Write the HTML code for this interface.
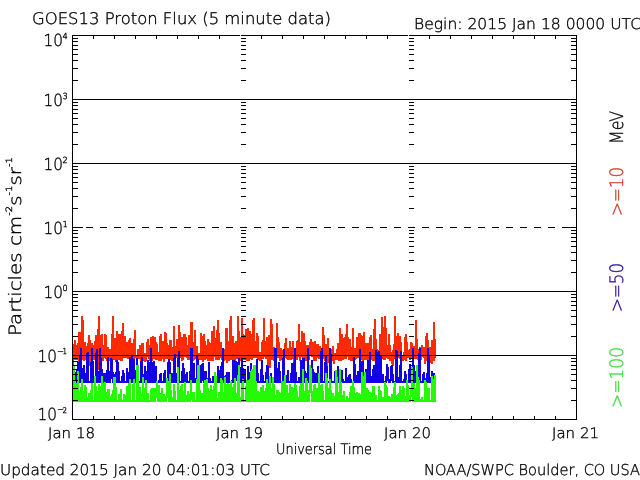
<!DOCTYPE html><html><head><meta charset="utf-8"><title>GOES13 Proton Flux</title><style>html,body{margin:0;padding:0;background:#fff;overflow:hidden}svg{display:block}text{font-family:"DejaVu Sans","Liberation Sans",sans-serif;font-weight:200;stroke-width:0.35px;text-rendering:geometricPrecision}</style></head><body><svg width="640" height="480" viewBox="0 0 640 480"><rect width="640" height="480" fill="#fff"/><path shape-rendering="crispEdges" fill="#ff2a00" d="M72 355h1v12h-1zM73 344h1v23h-1zM74 340h1v20h-1zM75 340h1v20h-1zM76 345h1v15h-1zM77 343h1v17h-1zM78 332h1v34h-1zM79 332h1v34h-1zM80 332h1v29h-1zM81 316h1v45h-1zM82 316h1v44h-1zM83 320h1v41h-1zM84 342h1v19h-1zM85 342h1v18h-1zM86 346h1v14h-1zM87 343h1v17h-1zM88 335h1v23h-1zM89 335h1v31h-1zM90 340h1v26h-1zM91 343h1v16h-1zM92 343h1v17h-1zM93 345h1v15h-1zM94 341h1v19h-1zM95 335h1v23h-1zM96 335h1v23h-1zM97 329h1v29h-1zM98 316h1v54h-1zM99 316h1v54h-1zM100 335h1v31h-1zM101 334h1v27h-1zM102 334h1v27h-1zM103 345h1v16h-1zM104 334h1v24h-1zM105 334h1v25h-1zM106 335h1v26h-1zM107 347h1v14h-1zM108 347h1v12h-1zM109 349h1v12h-1zM110 349h1v12h-1zM111 334h1v25h-1zM112 316h1v43h-1zM113 316h1v44h-1zM114 338h1v22h-1zM115 338h1v24h-1zM116 331h1v31h-1zM117 331h1v29h-1zM118 334h1v26h-1zM119 334h1v26h-1zM120 334h1v27h-1zM121 331h1v30h-1zM122 323h1v38h-1zM123 323h1v35h-1zM124 336h1v22h-1zM125 336h1v22h-1zM126 342h1v16h-1zM127 342h1v17h-1zM128 340h1v19h-1zM129 338h1v22h-1zM130 338h1v22h-1zM131 343h1v16h-1zM132 343h1v18h-1zM133 339h1v22h-1zM134 330h1v30h-1zM135 330h1v28h-1zM136 355h1v6h-1zM137 349h1v12h-1zM138 349h1v10h-1zM139 345h1v14h-1zM140 345h1v16h-1zM141 343h1v18h-1zM142 343h1v18h-1zM143 343h1v18h-1zM144 353h1v9h-1zM145 353h1v9h-1zM146 342h1v19h-1zM147 339h1v18h-1zM148 339h1v20h-1zM149 345h1v16h-1zM150 337h1v24h-1zM151 337h1v24h-1zM152 336h1v25h-1zM153 336h1v23h-1zM154 337h1v22h-1zM155 337h1v23h-1zM156 342h1v18h-1zM157 344h1v16h-1zM158 352h1v9h-1zM159 336h1v25h-1zM160 334h1v27h-1zM161 334h1v27h-1zM162 341h1v18h-1zM163 341h1v21h-1zM164 332h1v30h-1zM165 332h1v27h-1zM166 333h1v26h-1zM167 343h1v16h-1zM168 345h1v14h-1zM169 340h1v19h-1zM170 340h1v20h-1zM171 340h1v21h-1zM172 347h1v14h-1zM173 326h1v35h-1zM174 326h1v34h-1zM175 346h1v14h-1zM176 339h1v19h-1zM177 339h1v21h-1zM178 325h1v36h-1zM179 325h1v36h-1zM180 332h1v26h-1zM181 337h1v24h-1zM182 337h1v24h-1zM183 334h1v26h-1zM184 334h1v23h-1zM185 334h1v23h-1zM186 337h1v21h-1zM187 345h1v15h-1zM188 335h1v25h-1zM189 335h1v25h-1zM190 322h1v40h-1zM191 322h1v40h-1zM192 322h1v39h-1zM193 342h1v19h-1zM194 330h1v30h-1zM195 330h1v29h-1zM196 346h1v13h-1zM197 346h1v14h-1zM198 353h1v7h-1zM199 353h1v7h-1zM200 333h1v27h-1zM201 333h1v27h-1zM202 336h1v26h-1zM203 334h1v28h-1zM204 334h1v26h-1zM205 341h1v19h-1zM206 345h1v14h-1zM207 339h1v22h-1zM208 339h1v22h-1zM209 342h1v19h-1zM210 343h1v18h-1zM211 331h1v30h-1zM212 331h1v30h-1zM213 326h1v35h-1zM214 326h1v31h-1zM215 338h1v22h-1zM216 330h1v30h-1zM217 320h1v40h-1zM218 320h1v40h-1zM219 333h1v27h-1zM220 342h1v16h-1zM221 342h1v18h-1zM222 352h1v9h-1zM223 349h1v12h-1zM224 349h1v12h-1zM225 328h1v32h-1zM226 328h1v35h-1zM227 328h1v35h-1zM228 341h1v20h-1zM229 320h1v41h-1zM230 316h1v44h-1zM231 316h1v44h-1zM232 336h1v24h-1zM233 336h1v26h-1zM234 343h1v20h-1zM235 341h1v22h-1zM236 341h1v18h-1zM237 316h1v43h-1zM238 316h1v46h-1zM239 331h1v31h-1zM240 337h1v24h-1zM241 318h1v43h-1zM242 318h1v41h-1zM243 334h1v26h-1zM244 335h1v25h-1zM245 329h1v31h-1zM246 329h1v32h-1zM247 328h1v33h-1zM248 328h1v33h-1zM249 331h1v30h-1zM250 331h1v28h-1zM251 334h1v26h-1zM252 320h1v40h-1zM253 318h1v40h-1zM254 318h1v40h-1zM255 341h1v17h-1zM256 333h1v25h-1zM257 333h1v26h-1zM258 336h1v24h-1zM259 352h1v9h-1zM260 352h1v9h-1zM261 342h1v18h-1zM262 340h1v19h-1zM263 318h1v41h-1zM264 318h1v39h-1zM265 341h1v18h-1zM266 337h1v22h-1zM267 337h1v31h-1zM268 335h1v33h-1zM269 335h1v33h-1zM270 319h1v49h-1zM271 319h1v41h-1zM272 324h1v36h-1zM273 347h1v14h-1zM274 347h1v14h-1zM275 349h1v11h-1zM276 323h1v37h-1zM277 323h1v35h-1zM278 337h1v21h-1zM279 342h1v19h-1zM280 348h1v13h-1zM281 348h1v12h-1zM282 350h1v10h-1zM283 350h1v10h-1zM284 343h1v15h-1zM285 338h1v20h-1zM286 338h1v21h-1zM287 348h1v12h-1zM288 348h1v12h-1zM289 341h1v19h-1zM290 341h1v19h-1zM291 347h1v13h-1zM292 341h1v18h-1zM293 341h1v22h-1zM294 348h1v16h-1zM295 348h1v16h-1zM296 341h1v19h-1zM297 340h1v20h-1zM298 324h1v33h-1zM299 324h1v37h-1zM300 342h1v19h-1zM301 331h1v26h-1zM302 331h1v27h-1zM303 333h1v25h-1zM304 333h1v26h-1zM305 341h1v20h-1zM306 345h1v16h-1zM307 345h1v10h-1zM308 345h1v15h-1zM309 342h1v18h-1zM310 339h1v17h-1zM311 339h1v18h-1zM312 342h1v15h-1zM313 342h1v19h-1zM314 341h1v20h-1zM315 341h1v20h-1zM316 344h1v17h-1zM317 344h1v14h-1zM318 344h1v15h-1zM319 346h1v13h-1zM320 346h1v18h-1zM321 352h1v13h-1zM322 327h1v38h-1zM323 327h1v32h-1zM324 335h1v26h-1zM325 344h1v17h-1zM326 344h1v23h-1zM327 338h1v29h-1zM328 338h1v25h-1zM329 348h1v13h-1zM330 349h1v12h-1zM331 349h1v12h-1zM332 346h1v15h-1zM333 346h1v18h-1zM334 353h1v11h-1zM335 353h1v7h-1zM336 349h1v11h-1zM337 343h1v17h-1zM338 343h1v18h-1zM339 328h1v33h-1zM340 328h1v33h-1zM341 334h1v27h-1zM342 334h1v26h-1zM343 338h1v22h-1zM344 337h1v22h-1zM345 334h1v25h-1zM346 324h1v35h-1zM347 324h1v33h-1zM348 337h1v23h-1zM349 339h1v21h-1zM350 339h1v22h-1zM351 347h1v14h-1zM352 328h1v33h-1zM353 328h1v33h-1zM354 348h1v13h-1zM355 348h1v12h-1zM356 337h1v22h-1zM357 337h1v21h-1zM358 333h1v25h-1zM359 333h1v26h-1zM360 333h1v27h-1zM361 335h1v25h-1zM362 336h1v25h-1zM363 332h1v29h-1zM364 332h1v28h-1zM365 343h1v17h-1zM366 343h1v17h-1zM367 343h1v17h-1zM368 343h1v17h-1zM369 337h1v23h-1zM370 335h1v24h-1zM371 335h1v25h-1zM372 349h1v12h-1zM373 329h1v32h-1zM374 319h1v42h-1zM375 319h1v42h-1zM376 339h1v22h-1zM377 349h1v14h-1zM378 350h1v13h-1zM379 334h1v26h-1zM380 334h1v27h-1zM381 317h1v44h-1zM382 317h1v42h-1zM383 327h1v33h-1zM384 316h1v44h-1zM385 316h1v44h-1zM386 328h1v30h-1zM387 345h1v14h-1zM388 334h1v25h-1zM389 334h1v27h-1zM390 345h1v16h-1zM391 352h1v12h-1zM392 350h1v16h-1zM393 344h1v22h-1zM394 316h1v43h-1zM395 316h1v44h-1zM396 336h1v24h-1zM397 333h1v27h-1zM398 333h1v25h-1zM399 336h1v23h-1zM400 336h1v23h-1zM401 342h1v18h-1zM402 355h1v6h-1zM403 352h1v9h-1zM404 337h1v23h-1zM405 334h1v27h-1zM406 334h1v27h-1zM407 342h1v16h-1zM408 350h1v8h-1zM409 349h1v11h-1zM410 342h1v18h-1zM411 342h1v17h-1zM412 343h1v17h-1zM413 346h1v14h-1zM414 346h1v13h-1zM415 320h1v39h-1zM416 320h1v39h-1zM417 339h1v21h-1zM418 349h1v11h-1zM419 347h1v13h-1zM420 347h1v13h-1zM421 345h1v15h-1zM422 345h1v12h-1zM423 347h1v11h-1zM424 347h1v17h-1zM425 336h1v28h-1zM426 333h1v28h-1zM427 333h1v28h-1zM428 340h1v21h-1zM429 347h1v14h-1zM430 347h1v16h-1zM431 340h1v24h-1zM432 340h1v24h-1zM433 322h1v39h-1zM434 322h1v39h-1zM435 339h1v19h-1z"/><path shape-rendering="crispEdges" fill="#1400e6" d="M72 371h1v12h-1zM73 371h1v12h-1zM74 372h1v11h-1zM75 372h1v11h-1zM76 370h1v13h-1zM77 362h1v21h-1zM78 362h1v21h-1zM79 356h1v27h-1zM80 348h1v35h-1zM81 348h1v35h-1zM82 368h1v15h-1zM83 365h1v18h-1zM84 365h1v18h-1zM85 373h1v10h-1zM86 353h1v30h-1zM87 352h1v31h-1zM88 352h1v31h-1zM89 381h1v2h-1zM90 362h1v21h-1zM91 348h1v35h-1zM92 348h1v35h-1zM93 361h1v22h-1zM94 381h1v2h-1zM95 353h1v30h-1zM96 349h1v34h-1zM97 349h1v34h-1zM98 371h1v12h-1zM99 348h1v35h-1zM100 348h1v35h-1zM101 358h1v25h-1zM102 369h1v14h-1zM103 373h1v10h-1zM104 373h1v10h-1zM105 373h1v10h-1zM106 370h1v13h-1zM107 357h1v26h-1zM108 357h1v26h-1zM109 371h1v12h-1zM110 358h1v25h-1zM111 358h1v21h-1zM112 359h1v24h-1zM113 372h1v11h-1zM114 374h1v9h-1zM115 372h1v11h-1zM116 360h1v23h-1zM117 360h1v23h-1zM118 362h1v21h-1zM119 371h1v12h-1zM120 381h1v2h-1zM121 376h1v7h-1zM122 370h1v13h-1zM123 370h1v13h-1zM124 373h1v10h-1zM125 381h1v2h-1zM126 368h1v15h-1zM127 368h1v15h-1zM128 372h1v11h-1zM129 357h1v26h-1zM130 357h1v26h-1zM131 356h1v27h-1zM132 356h1v27h-1zM133 359h1v24h-1zM134 359h1v24h-1zM135 370h1v13h-1zM136 358h1v25h-1zM137 358h1v25h-1zM138 368h1v15h-1zM139 381h1v2h-1zM140 361h1v22h-1zM141 357h1v26h-1zM142 357h1v26h-1zM143 374h1v9h-1zM144 366h1v17h-1zM145 366h1v17h-1zM146 371h1v12h-1zM147 360h1v23h-1zM148 360h1v23h-1zM149 362h1v21h-1zM150 348h1v35h-1zM151 348h1v35h-1zM152 362h1v21h-1zM153 361h1v22h-1zM154 361h1v22h-1zM155 366h1v17h-1zM156 366h1v17h-1zM157 381h1v2h-1zM158 380h1v3h-1zM159 374h1v9h-1zM160 373h1v10h-1zM161 373h1v10h-1zM162 381h1v2h-1zM163 373h1v10h-1zM164 370h1v13h-1zM165 370h1v13h-1zM166 381h1v2h-1zM167 362h1v21h-1zM168 359h1v24h-1zM169 359h1v24h-1zM170 362h1v21h-1zM171 373h1v10h-1zM172 373h1v10h-1zM173 358h1v25h-1zM174 354h1v29h-1zM175 354h1v29h-1zM176 373h1v10h-1zM177 358h1v25h-1zM178 351h1v32h-1zM179 351h1v32h-1zM180 381h1v2h-1zM181 371h1v12h-1zM182 363h1v20h-1zM183 363h1v20h-1zM184 368h1v15h-1zM185 374h1v9h-1zM186 372h1v11h-1zM187 372h1v11h-1zM188 381h1v2h-1zM189 371h1v12h-1zM190 348h1v35h-1zM191 348h1v35h-1zM192 348h1v35h-1zM193 363h1v20h-1zM194 363h1v20h-1zM195 378h1v5h-1zM196 356h1v27h-1zM197 356h1v27h-1zM198 359h1v24h-1zM199 365h1v18h-1zM200 365h1v18h-1zM201 364h1v19h-1zM202 363h1v18h-1zM203 363h1v20h-1zM204 371h1v12h-1zM205 371h1v10h-1zM206 371h1v12h-1zM207 378h1v5h-1zM208 362h1v21h-1zM209 362h1v21h-1zM210 378h1v5h-1zM211 381h1v2h-1zM212 376h1v7h-1zM213 376h1v7h-1zM214 379h1v4h-1zM215 381h1v2h-1zM216 380h1v3h-1zM217 366h1v17h-1zM218 366h1v17h-1zM219 370h1v13h-1zM220 366h1v17h-1zM221 362h1v21h-1zM222 348h1v32h-1zM223 348h1v35h-1zM224 376h1v7h-1zM225 375h1v8h-1zM226 372h1v11h-1zM227 372h1v11h-1zM228 372h1v11h-1zM229 372h1v11h-1zM230 381h1v2h-1zM231 380h1v3h-1zM232 360h1v23h-1zM233 360h1v23h-1zM234 360h1v23h-1zM235 361h1v22h-1zM236 361h1v20h-1zM237 362h1v21h-1zM238 358h1v25h-1zM239 358h1v25h-1zM240 367h1v16h-1zM241 358h1v25h-1zM242 358h1v25h-1zM243 368h1v15h-1zM244 370h1v13h-1zM245 370h1v13h-1zM246 380h1v3h-1zM247 366h1v17h-1zM248 366h1v17h-1zM249 372h1v11h-1zM250 363h1v20h-1zM251 363h1v20h-1zM252 371h1v12h-1zM253 372h1v11h-1zM254 381h1v2h-1zM255 369h1v14h-1zM256 359h1v24h-1zM257 359h1v24h-1zM258 373h1v10h-1zM259 381h1v2h-1zM260 369h1v14h-1zM261 360h1v23h-1zM262 360h1v23h-1zM263 375h1v8h-1zM264 381h1v2h-1zM265 372h1v11h-1zM266 365h1v18h-1zM267 365h1v18h-1zM268 366h1v17h-1zM269 377h1v6h-1zM270 373h1v10h-1zM271 373h1v10h-1zM272 381h1v2h-1zM273 377h1v6h-1zM274 348h1v35h-1zM275 348h1v35h-1zM276 348h1v35h-1zM277 368h1v15h-1zM278 362h1v21h-1zM279 362h1v21h-1zM280 371h1v12h-1zM281 381h1v2h-1zM282 358h1v25h-1zM283 349h1v34h-1zM284 349h1v34h-1zM285 377h1v6h-1zM286 375h1v8h-1zM287 370h1v13h-1zM288 370h1v13h-1zM289 381h1v2h-1zM290 373h1v10h-1zM291 363h1v20h-1zM292 363h1v20h-1zM293 362h1v21h-1zM294 348h1v35h-1zM295 348h1v35h-1zM296 372h1v11h-1zM297 381h1v2h-1zM298 377h1v6h-1zM299 377h1v6h-1zM300 360h1v23h-1zM301 360h1v23h-1zM302 358h1v25h-1zM303 358h1v25h-1zM304 358h1v25h-1zM305 371h1v12h-1zM306 373h1v10h-1zM307 348h1v35h-1zM308 348h1v35h-1zM309 367h1v16h-1zM310 381h1v2h-1zM311 360h1v23h-1zM312 360h1v23h-1zM313 369h1v14h-1zM314 372h1v11h-1zM315 373h1v10h-1zM316 373h1v10h-1zM317 366h1v17h-1zM318 366h1v17h-1zM319 377h1v6h-1zM320 351h1v32h-1zM321 348h1v35h-1zM322 348h1v35h-1zM323 381h1v2h-1zM324 362h1v21h-1zM325 355h1v28h-1zM326 355h1v28h-1zM327 366h1v17h-1zM328 381h1v2h-1zM329 348h1v35h-1zM330 348h1v35h-1zM331 354h1v29h-1zM332 381h1v2h-1zM333 381h1v2h-1zM334 371h1v12h-1zM335 370h1v13h-1zM336 370h1v13h-1zM337 366h1v17h-1zM338 366h1v17h-1zM339 371h1v12h-1zM340 370h1v13h-1zM341 370h1v13h-1zM342 370h1v13h-1zM343 379h1v4h-1zM344 381h1v2h-1zM345 368h1v15h-1zM346 368h1v15h-1zM347 377h1v6h-1zM348 375h1v8h-1zM349 374h1v9h-1zM350 374h1v9h-1zM351 379h1v4h-1zM352 381h1v2h-1zM353 357h1v26h-1zM354 357h1v26h-1zM355 364h1v19h-1zM356 375h1v8h-1zM357 371h1v12h-1zM358 371h1v12h-1zM359 349h1v34h-1zM360 349h1v34h-1zM361 361h1v22h-1zM362 361h1v22h-1zM363 361h1v22h-1zM364 378h1v5h-1zM365 369h1v14h-1zM366 369h1v14h-1zM367 360h1v23h-1zM368 360h1v23h-1zM369 352h1v31h-1zM370 352h1v31h-1zM371 376h1v7h-1zM372 369h1v14h-1zM373 365h1v18h-1zM374 365h1v18h-1zM375 350h1v33h-1zM376 350h1v33h-1zM377 352h1v31h-1zM378 351h1v32h-1zM379 351h1v32h-1zM380 355h1v28h-1zM381 355h1v28h-1zM382 374h1v9h-1zM383 374h1v9h-1zM384 381h1v2h-1zM385 376h1v7h-1zM386 364h1v19h-1zM387 364h1v17h-1zM388 367h1v16h-1zM389 379h1v4h-1zM390 366h1v17h-1zM391 365h1v16h-1zM392 365h1v18h-1zM393 374h1v9h-1zM394 381h1v2h-1zM395 350h1v33h-1zM396 350h1v33h-1zM397 351h1v32h-1zM398 377h1v6h-1zM399 365h1v18h-1zM400 351h1v32h-1zM401 351h1v32h-1zM402 381h1v2h-1zM403 379h1v4h-1zM404 371h1v12h-1zM405 371h1v12h-1zM406 374h1v9h-1zM407 380h1v3h-1zM408 369h1v14h-1zM409 364h1v19h-1zM410 364h1v19h-1zM411 381h1v2h-1zM412 348h1v35h-1zM413 348h1v35h-1zM414 365h1v18h-1zM415 371h1v12h-1zM416 367h1v16h-1zM417 367h1v16h-1zM418 353h1v30h-1zM419 348h1v35h-1zM420 348h1v35h-1zM421 381h1v2h-1zM422 374h1v9h-1zM423 372h1v11h-1zM424 372h1v11h-1zM425 378h1v5h-1zM426 373h1v10h-1zM427 348h1v35h-1zM428 348h1v35h-1zM429 355h1v28h-1zM430 377h1v6h-1zM431 371h1v12h-1zM432 371h1v12h-1zM433 373h1v10h-1zM434 373h1v10h-1zM435 377h1v6h-1z"/><path shape-rendering="crispEdges" fill="#24fa04" d="M72 384h1v18h-1zM73 365h1v37h-1zM74 365h1v37h-1zM75 380h1v22h-1zM76 383h1v19h-1zM77 371h1v31h-1zM78 371h1v31h-1zM79 392h1v10h-1zM80 387h1v15h-1zM81 379h1v23h-1zM82 379h1v23h-1zM83 391h1v11h-1zM84 385h1v17h-1zM85 385h1v17h-1zM86 387h1v15h-1zM87 397h1v5h-1zM88 393h1v9h-1zM89 393h1v9h-1zM90 390h1v12h-1zM91 383h1v19h-1zM92 383h1v19h-1zM93 400h1v2h-1zM94 376h1v26h-1zM95 376h1v26h-1zM96 386h1v16h-1zM97 391h1v11h-1zM98 384h1v18h-1zM99 384h1v18h-1zM100 386h1v16h-1zM101 376h1v26h-1zM102 376h1v26h-1zM103 383h1v19h-1zM104 382h1v20h-1zM105 382h1v20h-1zM106 392h1v10h-1zM107 389h1v13h-1zM108 389h1v13h-1zM109 389h1v13h-1zM110 396h1v6h-1zM111 394h1v8h-1zM112 390h1v12h-1zM113 377h1v25h-1zM114 377h1v25h-1zM115 377h1v25h-1zM116 387h1v15h-1zM117 400h1v2h-1zM118 394h1v8h-1zM119 394h1v8h-1zM120 389h1v13h-1zM121 389h1v13h-1zM122 400h1v2h-1zM123 394h1v8h-1zM124 394h1v8h-1zM125 395h1v7h-1zM126 386h1v16h-1zM127 386h1v16h-1zM128 383h1v19h-1zM129 379h1v23h-1zM130 379h1v23h-1zM131 400h1v2h-1zM132 384h1v18h-1zM133 379h1v23h-1zM134 379h1v23h-1zM135 400h1v2h-1zM136 365h1v37h-1zM137 365h1v37h-1zM138 365h1v37h-1zM139 387h1v15h-1zM140 387h1v15h-1zM141 394h1v8h-1zM142 377h1v25h-1zM143 377h1v25h-1zM144 388h1v14h-1zM145 380h1v22h-1zM146 380h1v22h-1zM147 393h1v9h-1zM148 393h1v9h-1zM149 400h1v2h-1zM150 389h1v13h-1zM151 388h1v14h-1zM152 388h1v14h-1zM153 388h1v14h-1zM154 388h1v14h-1zM155 388h1v14h-1zM156 381h1v17h-1zM157 381h1v21h-1zM158 385h1v17h-1zM159 385h1v17h-1zM160 393h1v9h-1zM161 388h1v14h-1zM162 388h1v14h-1zM163 394h1v8h-1zM164 394h1v8h-1zM165 396h1v6h-1zM166 378h1v24h-1zM167 378h1v20h-1zM168 381h1v21h-1zM169 374h1v28h-1zM170 374h1v28h-1zM171 390h1v12h-1zM172 397h1v5h-1zM173 384h1v18h-1zM174 384h1v18h-1zM175 391h1v11h-1zM176 400h1v2h-1zM177 367h1v35h-1zM178 367h1v35h-1zM179 390h1v12h-1zM180 386h1v16h-1zM181 384h1v18h-1zM182 384h1v18h-1zM183 391h1v11h-1zM184 382h1v20h-1zM185 382h1v20h-1zM186 395h1v7h-1zM187 391h1v11h-1zM188 391h1v11h-1zM189 394h1v8h-1zM190 380h1v22h-1zM191 380h1v20h-1zM192 392h1v10h-1zM193 392h1v10h-1zM194 392h1v10h-1zM195 400h1v2h-1zM196 379h1v23h-1zM197 365h1v37h-1zM198 365h1v37h-1zM199 365h1v37h-1zM200 390h1v12h-1zM201 393h1v9h-1zM202 393h1v9h-1zM203 384h1v18h-1zM204 380h1v22h-1zM205 380h1v22h-1zM206 379h1v23h-1zM207 379h1v23h-1zM208 388h1v14h-1zM209 391h1v11h-1zM210 385h1v17h-1zM211 385h1v17h-1zM212 390h1v12h-1zM213 386h1v16h-1zM214 372h1v30h-1zM215 372h1v30h-1zM216 376h1v26h-1zM217 398h1v4h-1zM218 392h1v10h-1zM219 392h1v10h-1zM220 378h1v24h-1zM221 378h1v24h-1zM222 380h1v22h-1zM223 392h1v10h-1zM224 377h1v25h-1zM225 377h1v25h-1zM226 384h1v18h-1zM227 383h1v19h-1zM228 383h1v19h-1zM229 384h1v18h-1zM230 381h1v21h-1zM231 381h1v21h-1zM232 387h1v15h-1zM233 384h1v18h-1zM234 378h1v24h-1zM235 378h1v24h-1zM236 393h1v9h-1zM237 375h1v27h-1zM238 365h1v37h-1zM239 365h1v37h-1zM240 397h1v5h-1zM241 383h1v19h-1zM242 379h1v23h-1zM243 379h1v23h-1zM244 400h1v2h-1zM245 386h1v16h-1zM246 380h1v22h-1zM247 380h1v22h-1zM248 380h1v22h-1zM249 379h1v23h-1zM250 371h1v31h-1zM251 369h1v33h-1zM252 369h1v33h-1zM253 365h1v37h-1zM254 365h1v37h-1zM255 365h1v37h-1zM256 381h1v21h-1zM257 391h1v11h-1zM258 391h1v11h-1zM259 392h1v10h-1zM260 387h1v15h-1zM261 387h1v15h-1zM262 385h1v17h-1zM263 385h1v17h-1zM264 391h1v11h-1zM265 388h1v14h-1zM266 379h1v23h-1zM267 379h1v23h-1zM268 383h1v19h-1zM269 376h1v26h-1zM270 376h1v26h-1zM271 388h1v14h-1zM272 377h1v25h-1zM273 377h1v25h-1zM274 384h1v18h-1zM275 395h1v7h-1zM276 390h1v12h-1zM277 390h1v12h-1zM278 390h1v12h-1zM279 392h1v10h-1zM280 393h1v9h-1zM281 381h1v21h-1zM282 381h1v21h-1zM283 381h1v21h-1zM284 375h1v27h-1zM285 375h1v27h-1zM286 385h1v17h-1zM287 385h1v17h-1zM288 393h1v9h-1zM289 384h1v18h-1zM290 384h1v18h-1zM291 387h1v15h-1zM292 387h1v15h-1zM293 388h1v14h-1zM294 383h1v19h-1zM295 383h1v19h-1zM296 385h1v17h-1zM297 391h1v11h-1zM298 397h1v5h-1zM299 386h1v16h-1zM300 383h1v19h-1zM301 383h1v19h-1zM302 369h1v33h-1zM303 369h1v33h-1zM304 391h1v11h-1zM305 378h1v24h-1zM306 378h1v24h-1zM307 381h1v21h-1zM308 390h1v12h-1zM309 365h1v37h-1zM310 365h1v28h-1zM311 368h1v34h-1zM312 391h1v11h-1zM313 385h1v17h-1zM314 384h1v18h-1zM315 384h1v18h-1zM316 388h1v14h-1zM317 388h1v14h-1zM318 373h1v29h-1zM319 373h1v29h-1zM320 385h1v17h-1zM321 384h1v18h-1zM322 384h1v18h-1zM323 391h1v11h-1zM324 400h1v2h-1zM325 373h1v29h-1zM326 373h1v29h-1zM327 378h1v24h-1zM328 388h1v14h-1zM329 379h1v23h-1zM330 379h1v23h-1zM331 390h1v12h-1zM332 393h1v9h-1zM333 393h1v9h-1zM334 396h1v6h-1zM335 370h1v32h-1zM336 370h1v32h-1zM337 377h1v25h-1zM338 392h1v10h-1zM339 369h1v33h-1zM340 369h1v33h-1zM341 382h1v20h-1zM342 395h1v7h-1zM343 391h1v11h-1zM344 391h1v11h-1zM345 400h1v2h-1zM346 396h1v6h-1zM347 396h1v6h-1zM348 398h1v4h-1zM349 392h1v10h-1zM350 386h1v16h-1zM351 386h1v16h-1zM352 381h1v21h-1zM353 381h1v21h-1zM354 387h1v15h-1zM355 393h1v9h-1zM356 392h1v10h-1zM357 392h1v10h-1zM358 393h1v9h-1zM359 393h1v9h-1zM360 394h1v8h-1zM361 372h1v30h-1zM362 372h1v30h-1zM363 376h1v26h-1zM364 372h1v30h-1zM365 372h1v30h-1zM366 388h1v14h-1zM367 388h1v14h-1zM368 390h1v12h-1zM369 392h1v10h-1zM370 392h1v10h-1zM371 393h1v9h-1zM372 386h1v16h-1zM373 386h1v16h-1zM374 386h1v16h-1zM375 395h1v7h-1zM376 395h1v7h-1zM377 400h1v2h-1zM378 386h1v16h-1zM379 386h1v16h-1zM380 390h1v12h-1zM381 391h1v11h-1zM382 397h1v5h-1zM383 397h1v5h-1zM384 382h1v20h-1zM385 382h1v20h-1zM386 385h1v17h-1zM387 387h1v15h-1zM388 396h1v6h-1zM389 396h1v6h-1zM390 397h1v5h-1zM391 394h1v8h-1zM392 394h1v8h-1zM393 387h1v15h-1zM394 382h1v20h-1zM395 382h1v20h-1zM396 395h1v7h-1zM397 394h1v8h-1zM398 393h1v9h-1zM399 386h1v16h-1zM400 386h1v16h-1zM401 390h1v12h-1zM402 386h1v16h-1zM403 386h1v16h-1zM404 388h1v14h-1zM405 396h1v6h-1zM406 380h1v22h-1zM407 380h1v22h-1zM408 385h1v17h-1zM409 395h1v7h-1zM410 388h1v14h-1zM411 367h1v30h-1zM412 367h1v35h-1zM413 383h1v19h-1zM414 383h1v19h-1zM415 388h1v14h-1zM416 365h1v37h-1zM417 365h1v37h-1zM418 377h1v25h-1zM419 380h1v22h-1zM420 399h1v3h-1zM421 397h1v5h-1zM422 397h1v5h-1zM423 400h1v2h-1zM424 380h1v22h-1zM425 380h1v22h-1zM426 382h1v20h-1zM427 388h1v14h-1zM428 388h1v14h-1zM429 388h1v14h-1zM430 400h1v2h-1zM431 376h1v26h-1zM432 376h1v26h-1zM433 379h1v23h-1zM434 375h1v27h-1zM435 375h1v27h-1z"/><path shape-rendering="crispEdges" fill="#000" d="M72 35h505v1h-505zM72 419h505v1h-505zM72 35h1v385h-1zM576 35h1v385h-1zM93 35h1v4h-1zM93 416h1v4h-1zM114 35h1v4h-1zM114 416h1v4h-1zM135 35h1v4h-1zM135 416h1v4h-1zM156 35h1v4h-1zM156 416h1v4h-1zM177 35h1v4h-1zM177 416h1v4h-1zM198 35h1v4h-1zM198 416h1v4h-1zM219 35h1v4h-1zM219 416h1v4h-1zM261 35h1v4h-1zM261 416h1v4h-1zM282 35h1v4h-1zM282 416h1v4h-1zM303 35h1v4h-1zM303 416h1v4h-1zM324 35h1v4h-1zM324 416h1v4h-1zM345 35h1v4h-1zM345 416h1v4h-1zM366 35h1v4h-1zM366 416h1v4h-1zM387 35h1v4h-1zM387 416h1v4h-1zM429 35h1v4h-1zM429 416h1v4h-1zM450 35h1v4h-1zM450 416h1v4h-1zM471 35h1v4h-1zM471 416h1v4h-1zM492 35h1v4h-1zM492 416h1v4h-1zM513 35h1v4h-1zM513 416h1v4h-1zM534 35h1v4h-1zM534 416h1v4h-1zM555 35h1v4h-1zM555 416h1v4h-1zM72 400h6v1h-6zM571 400h6v1h-6zM241 400h5v1h-5zM409 400h5v1h-5zM72 388h6v1h-6zM571 388h6v1h-6zM241 388h5v1h-5zM409 388h5v1h-5zM72 380h6v1h-6zM571 380h6v1h-6zM241 380h5v1h-5zM409 380h5v1h-5zM72 374h6v1h-6zM571 374h6v1h-6zM241 374h5v1h-5zM409 374h5v1h-5zM72 369h6v1h-6zM571 369h6v1h-6zM241 369h5v1h-5zM409 369h5v1h-5zM72 365h6v1h-6zM571 365h6v1h-6zM241 365h5v1h-5zM409 365h5v1h-5zM72 361h6v1h-6zM571 361h6v1h-6zM241 361h5v1h-5zM409 361h5v1h-5zM72 358h6v1h-6zM571 358h6v1h-6zM241 358h5v1h-5zM409 358h5v1h-5zM72 336h6v1h-6zM571 336h6v1h-6zM241 336h5v1h-5zM409 336h5v1h-5zM72 324h6v1h-6zM571 324h6v1h-6zM241 324h5v1h-5zM409 324h5v1h-5zM72 316h6v1h-6zM571 316h6v1h-6zM241 316h5v1h-5zM409 316h5v1h-5zM72 310h6v1h-6zM571 310h6v1h-6zM241 310h5v1h-5zM409 310h5v1h-5zM72 305h6v1h-6zM571 305h6v1h-6zM241 305h5v1h-5zM409 305h5v1h-5zM72 301h6v1h-6zM571 301h6v1h-6zM241 301h5v1h-5zM409 301h5v1h-5zM72 297h6v1h-6zM571 297h6v1h-6zM241 297h5v1h-5zM409 297h5v1h-5zM72 294h6v1h-6zM571 294h6v1h-6zM241 294h5v1h-5zM409 294h5v1h-5zM72 272h6v1h-6zM571 272h6v1h-6zM241 272h5v1h-5zM409 272h5v1h-5zM72 260h6v1h-6zM571 260h6v1h-6zM241 260h5v1h-5zM409 260h5v1h-5zM72 252h6v1h-6zM571 252h6v1h-6zM241 252h5v1h-5zM409 252h5v1h-5zM72 246h6v1h-6zM571 246h6v1h-6zM241 246h5v1h-5zM409 246h5v1h-5zM72 241h6v1h-6zM571 241h6v1h-6zM241 241h5v1h-5zM409 241h5v1h-5zM72 237h6v1h-6zM571 237h6v1h-6zM241 237h5v1h-5zM409 237h5v1h-5zM72 233h6v1h-6zM571 233h6v1h-6zM241 233h5v1h-5zM409 233h5v1h-5zM72 230h6v1h-6zM571 230h6v1h-6zM241 230h5v1h-5zM409 230h5v1h-5zM72 208h6v1h-6zM571 208h6v1h-6zM241 208h5v1h-5zM409 208h5v1h-5zM72 196h6v1h-6zM571 196h6v1h-6zM241 196h5v1h-5zM409 196h5v1h-5zM72 188h6v1h-6zM571 188h6v1h-6zM241 188h5v1h-5zM409 188h5v1h-5zM72 182h6v1h-6zM571 182h6v1h-6zM241 182h5v1h-5zM409 182h5v1h-5zM72 177h6v1h-6zM571 177h6v1h-6zM241 177h5v1h-5zM409 177h5v1h-5zM72 173h6v1h-6zM571 173h6v1h-6zM241 173h5v1h-5zM409 173h5v1h-5zM72 169h6v1h-6zM571 169h6v1h-6zM241 169h5v1h-5zM409 169h5v1h-5zM72 166h6v1h-6zM571 166h6v1h-6zM241 166h5v1h-5zM409 166h5v1h-5zM72 144h6v1h-6zM571 144h6v1h-6zM241 144h5v1h-5zM409 144h5v1h-5zM72 132h6v1h-6zM571 132h6v1h-6zM241 132h5v1h-5zM409 132h5v1h-5zM72 124h6v1h-6zM571 124h6v1h-6zM241 124h5v1h-5zM409 124h5v1h-5zM72 118h6v1h-6zM571 118h6v1h-6zM241 118h5v1h-5zM409 118h5v1h-5zM72 113h6v1h-6zM571 113h6v1h-6zM241 113h5v1h-5zM409 113h5v1h-5zM72 109h6v1h-6zM571 109h6v1h-6zM241 109h5v1h-5zM409 109h5v1h-5zM72 105h6v1h-6zM571 105h6v1h-6zM241 105h5v1h-5zM409 105h5v1h-5zM72 102h6v1h-6zM571 102h6v1h-6zM241 102h5v1h-5zM409 102h5v1h-5zM72 80h6v1h-6zM571 80h6v1h-6zM241 80h5v1h-5zM409 80h5v1h-5zM72 68h6v1h-6zM571 68h6v1h-6zM241 68h5v1h-5zM409 68h5v1h-5zM72 60h6v1h-6zM571 60h6v1h-6zM241 60h5v1h-5zM409 60h5v1h-5zM72 54h6v1h-6zM571 54h6v1h-6zM241 54h5v1h-5zM409 54h5v1h-5zM72 49h6v1h-6zM571 49h6v1h-6zM241 49h5v1h-5zM409 49h5v1h-5zM72 45h6v1h-6zM571 45h6v1h-6zM241 45h5v1h-5zM409 45h5v1h-5zM72 41h6v1h-6zM571 41h6v1h-6zM241 41h5v1h-5zM409 41h5v1h-5zM72 38h6v1h-6zM571 38h6v1h-6zM241 38h5v1h-5zM409 38h5v1h-5zM72 419h11v1h-11zM566 419h11v1h-11zM72 355h11v1h-11zM566 355h11v1h-11zM72 291h11v1h-11zM566 291h11v1h-11zM72 227h11v1h-11zM566 227h11v1h-11zM72 163h11v1h-11zM566 163h11v1h-11zM72 99h11v1h-11zM566 99h11v1h-11zM72 35h11v1h-11zM566 35h11v1h-11z"/><path shape-rendering="crispEdges" fill="#fff" d="M240 35h1v1h-1zM240 419h1v1h-1zM408 35h1v1h-1zM408 419h1v1h-1z"/><path shape-rendering="crispEdges" fill="#000" d="M72 99h505v1h-505zM72 163h505v1h-505zM72 291h505v1h-505zM72 355h505v1h-505zM72 227h7v1h-7zM86 227h7v1h-7zM100 227h7v1h-7zM114 227h7v1h-7zM128 227h7v1h-7zM142 227h7v1h-7zM156 227h7v1h-7zM170 227h7v1h-7zM184 227h7v1h-7zM198 227h7v1h-7zM212 227h7v1h-7zM226 227h7v1h-7zM240 227h7v1h-7zM254 227h7v1h-7zM268 227h7v1h-7zM282 227h7v1h-7zM296 227h7v1h-7zM310 227h7v1h-7zM324 227h7v1h-7zM338 227h7v1h-7zM352 227h7v1h-7zM366 227h7v1h-7zM380 227h7v1h-7zM394 227h7v1h-7zM408 227h7v1h-7zM422 227h7v1h-7zM436 227h7v1h-7zM450 227h7v1h-7zM464 227h7v1h-7zM478 227h7v1h-7zM492 227h7v1h-7zM506 227h7v1h-7zM520 227h7v1h-7zM534 227h7v1h-7zM548 227h7v1h-7zM562 227h7v1h-7zM576 227h1v1h-1z"/><text x="32" y="24" font-size="16" fill="#000" stroke="#000" textLength="299" lengthAdjust="spacingAndGlyphs" >GOES13 Proton Flux (5 minute data)</text><text x="414" y="29" font-size="15" fill="#000" stroke="#000" textLength="227" lengthAdjust="spacingAndGlyphs" >Begin: 2015 Jan 18 0000 UTC</text><text x="48" y="438" font-size="14.5" fill="#000" stroke="#000" textLength="47" lengthAdjust="spacingAndGlyphs" >Jan 18</text><text x="216" y="438" font-size="14.5" fill="#000" stroke="#000" textLength="47" lengthAdjust="spacingAndGlyphs" >Jan 19</text><text x="384" y="438" font-size="14.5" fill="#000" stroke="#000" textLength="47" lengthAdjust="spacingAndGlyphs" >Jan 20</text><text x="552" y="438" font-size="14.5" fill="#000" stroke="#000" textLength="47" lengthAdjust="spacingAndGlyphs" >Jan 21</text><text x="276" y="454" font-size="14.5" fill="#000" stroke="#000" textLength="96" lengthAdjust="spacingAndGlyphs" >Universal Time</text><text x="0" y="475" font-size="15" fill="#000" stroke="#000" textLength="270" lengthAdjust="spacingAndGlyphs" >Updated 2015 Jan 20 04:01:03 UTC</text><text x="424" y="475" font-size="15" fill="#000" stroke="#000" textLength="216" lengthAdjust="spacingAndGlyphs" >NOAA/SWPC Boulder, CO USA</text><text x="0" y="0" font-size="17" fill="#000" stroke="#000" textLength="179" lengthAdjust="spacingAndGlyphs" transform="translate(21,336) rotate(-90)" >Particles cm<tspan font-size="8.6" dy="-9">-2</tspan><tspan dy="9">s</tspan><tspan font-size="8.6" dy="-9">-1</tspan><tspan dy="9">sr</tspan><tspan font-size="8.6" dy="-9">-1</tspan></text><text x="0" y="0" font-size="18.5" fill="#000" stroke="#000" textLength="33" lengthAdjust="spacingAndGlyphs" transform="translate(623,144) rotate(-90)" >MeV</text><text x="0" y="0" font-size="18.5" fill="#c83c28" stroke="#c83c28" textLength="49" lengthAdjust="spacingAndGlyphs" transform="translate(623,216) rotate(-90)" >&gt;=10</text><text x="0" y="0" font-size="18.5" fill="#280a96" stroke="#280a96" textLength="49" lengthAdjust="spacingAndGlyphs" transform="translate(623,312) rotate(-90)" >&gt;=50</text><text x="0" y="0" font-size="18.5" fill="#3cdc3c" stroke="#3cdc3c" textLength="61" lengthAdjust="spacingAndGlyphs" transform="translate(623,408) rotate(-90)" >&gt;=100</text><text x="43.5" y="46" font-size="16.5" fill="#000" stroke="#000" textLength="19.5" lengthAdjust="spacingAndGlyphs" >10</text><text x="62.6" y="38.5" font-size="8.4" fill="#000" stroke="#000" textLength="5.2" lengthAdjust="spacingAndGlyphs" >4</text><text x="43.5" y="106" font-size="16.5" fill="#000" stroke="#000" textLength="19.5" lengthAdjust="spacingAndGlyphs" >10</text><text x="62.6" y="98.5" font-size="8.4" fill="#000" stroke="#000" textLength="5.2" lengthAdjust="spacingAndGlyphs" >3</text><text x="43.5" y="170" font-size="16.5" fill="#000" stroke="#000" textLength="19.5" lengthAdjust="spacingAndGlyphs" >10</text><text x="62.6" y="162.5" font-size="8.4" fill="#000" stroke="#000" textLength="5.2" lengthAdjust="spacingAndGlyphs" >2</text><text x="43.5" y="234" font-size="16.5" fill="#000" stroke="#000" textLength="19.5" lengthAdjust="spacingAndGlyphs" >10</text><text x="62.6" y="226.5" font-size="8.4" fill="#000" stroke="#000" textLength="5.2" lengthAdjust="spacingAndGlyphs" >1</text><text x="43.5" y="298" font-size="16.5" fill="#000" stroke="#000" textLength="19.5" lengthAdjust="spacingAndGlyphs" >10</text><text x="62.6" y="290.5" font-size="8.4" fill="#000" stroke="#000" textLength="5.2" lengthAdjust="spacingAndGlyphs" >0</text><text x="37.5" y="362" font-size="16.5" fill="#000" stroke="#000" textLength="19.5" lengthAdjust="spacingAndGlyphs" >10</text><text x="37.5" y="420" font-size="16.5" fill="#000" stroke="#000" textLength="19.5" lengthAdjust="spacingAndGlyphs" >10</text><text x="57.2" y="353.5" font-size="8.4" fill="#000" stroke="#000" textLength="6.6" lengthAdjust="spacingAndGlyphs" >-</text><text x="62.6" y="353.5" font-size="8.4" fill="#000" stroke="#000" textLength="4.6" lengthAdjust="spacingAndGlyphs" >1</text><text x="57.2" y="411.5" font-size="8.4" fill="#000" stroke="#000" textLength="6.6" lengthAdjust="spacingAndGlyphs" >-</text><text x="62.6" y="412.6" font-size="7.6" fill="#000" stroke="#000" textLength="4.6" lengthAdjust="spacingAndGlyphs" >2</text></svg></body></html>
